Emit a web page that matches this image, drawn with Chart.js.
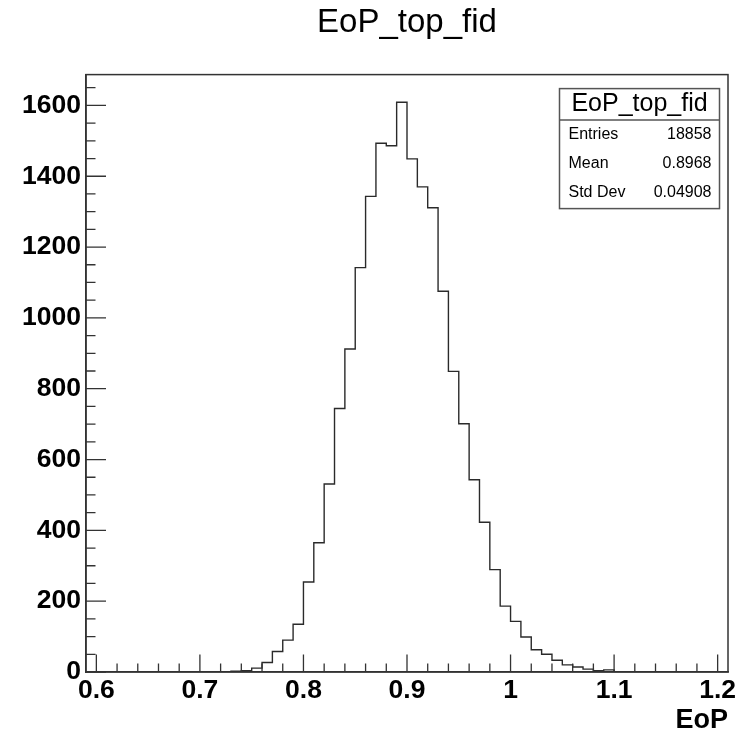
<!DOCTYPE html>
<html>
<head>
<meta charset="utf-8">
<title>EoP_top_fid</title>
<script src="https://cdn.jsdelivr.net/npm/chart.js@4"></script>
<style>
  html, body { margin: 0; padding: 0; background: #fff; }
  #wrap { width: 750px; height: 731px; position: relative; }
</style>
</head>
<body>
<div id="wrap"><canvas id="eopChart"></canvas></div>
<script>
// histogram bin edges (0.01 wide) and counts
const binEdges = [0.72, 0.73, 0.74, 0.75, 0.76, 0.77, 0.78, 0.79, 0.80, 0.81,
  0.82, 0.83, 0.84, 0.85, 0.86, 0.87, 0.88, 0.89, 0.90, 0.91,
  0.92, 0.93, 0.94, 0.95, 0.96, 0.97, 0.98, 0.99, 1.00, 1.01,
  1.02, 1.03, 1.04, 1.05, 1.06, 1.07, 1.08, 1.09, 1.10];
const binCounts = [1, 2, 4, 11, 27, 58, 90, 135, 254, 365,
  531, 744, 912, 1142, 1343, 1493, 1486, 1609, 1449, 1370,
  1311, 1075, 849, 701, 543, 423, 289, 186, 143, 99,
  63, 50, 33, 20, 14, 8, 4, 6];

const xTickLabels = [0.6, 0.7, 0.8, 0.9, 1, 1.1, 1.2];
const yTickLabels = [0, 200, 400, 600, 800, 1000, 1200, 1400, 1600];

const statsTitle = "EoP_top_fid";
const statsNames = ["Entries", "Mean", "Std Dev"];
const statsValues = ["18858", "0.8968", "0.04908"];

const FONT = "'Liberation Sans', Arial, Helvetica, sans-serif";
const INK = "#333";

// outline points: up at each low edge, across to the next edge, down at the end
const outline = [{ x: binEdges[0], y: 0 }];
binCounts.forEach((c, i) => outline.push({ x: binEdges[i + 1], y: c }));
outline.push({ x: binEdges[binEdges.length - 1], y: 0 });

// ROOT-style frame, inward ticks and stats box
const rootFrame = {
  id: "rootFrame",
  afterDraw(chart) {
    const { ctx, chartArea: a, scales: { x, y } } = chart;
    ctx.save();
    ctx.strokeStyle = INK;
    ctx.lineWidth = 1.5;
    ctx.strokeRect(a.left, a.top, a.right - a.left, a.bottom - a.top);

    ctx.lineWidth = 1.3;
    ctx.beginPath();
    for (let v = 0; v <= y.max; v += 50) {
      const py = y.getPixelForValue(v);
      const len = v % 200 === 0 ? 20 : 9.5;
      ctx.moveTo(a.left, py);
      ctx.lineTo(a.left + len, py);
    }
    for (let k = 0; k <= 30; k++) {
      const v = 0.6 + k * 0.02;
      const px = x.getPixelForValue(v);
      const len = k % 5 === 0 ? 17.5 : 8.5;
      ctx.moveTo(px, a.bottom);
      ctx.lineTo(px, a.bottom - len);
    }
    ctx.stroke();

    // stats box
    const bl = a.right - 168.5, br = a.right - 8.5, bt = a.top + 14, bb = a.top + 134;
    ctx.fillStyle = "#fff";
    ctx.fillRect(bl, bt, br - bl, bb - bt);
    ctx.strokeStyle = "#555";
    ctx.lineWidth = 1.5;
    ctx.strokeRect(bl, bt, br - bl, bb - bt);
    ctx.beginPath();
    ctx.moveTo(bl, bt + 31.5);
    ctx.lineTo(br, bt + 31.5);
    ctx.stroke();

    ctx.fillStyle = "#000";
    ctx.textBaseline = "alphabetic";
    ctx.font = "25px " + FONT;
    ctx.textAlign = "center";
    ctx.fillText(statsTitle, (bl + br) / 2, bt + 22.5);
    ctx.font = "16px " + FONT;
    statsNames.forEach((name, i) => {
      const by = bt + 50.5 + i * 29;
      ctx.textAlign = "left";
      ctx.fillText(name, bl + 9, by);
      ctx.textAlign = "right";
      ctx.fillText(statsValues[i], br - 8, by);
    });
    ctx.restore();
  }
};

new Chart(document.getElementById("eopChart"), {
  type: "line",
  data: {
    datasets: [{
      label: "EoP_top_fid",
      data: outline,
      borderColor: "#2a2a2a",
      borderWidth: 1.4,
      pointRadius: 0,
      fill: false,
      stepped: "after",
      tension: 0
    }]
  },
  options: {
    responsive: true,
    maintainAspectRatio: false,
    animation: false,
    layout: { padding: { left: 0, right: 22, top: 0, bottom: 0 } },
    plugins: {
      legend: { display: false },
      tooltip: { enabled: false },
      title: {
        display: true,
        text: "EoP_top_fid",
        fullSize: false,
        color: "#000",
        font: { family: FONT, size: 33, weight: "normal", lineHeight: 1.2 },
        padding: { top: 3, bottom: 32 }
      }
    },
    scales: {
      x: {
        type: "linear",
        min: 0.59,
        max: 1.21,
        afterBuildTicks: scale => { scale.ticks = xTickLabels.map(v => ({ value: v })); },
        afterFit: scale => { scale.height = 59; },
        grid: { display: false, drawTicks: false },
        border: { display: true, color: INK, width: 1.5 },
        ticks: {
          color: "#000",
          padding: 3,
          maxRotation: 0,
          font: { family: FONT, size: 26.5, weight: "bold" },
          callback: v => String(v)
        },
        title: {
          display: true,
          text: "EoP",
          align: "end",
          color: "#000",
          padding: 0,
          font: { family: FONT, size: 27, weight: "bold", lineHeight: 0.8 }
        }
      },
      y: {
        min: 0,
        max: 1687,
        afterBuildTicks: scale => { scale.ticks = yTickLabels.map(v => ({ value: v })); },
        afterFit: scale => { scale.width = 86; },
        grid: { display: false, drawTicks: false },
        border: { display: true, color: INK, width: 1.5 },
        ticks: {
          color: "#000",
          padding: 5,
          font: { family: FONT, size: 26.5, weight: "bold" },
          callback: v => String(v)
        }
      }
    }
  },
  plugins: [rootFrame]
});
</script>
</body>
</html>
